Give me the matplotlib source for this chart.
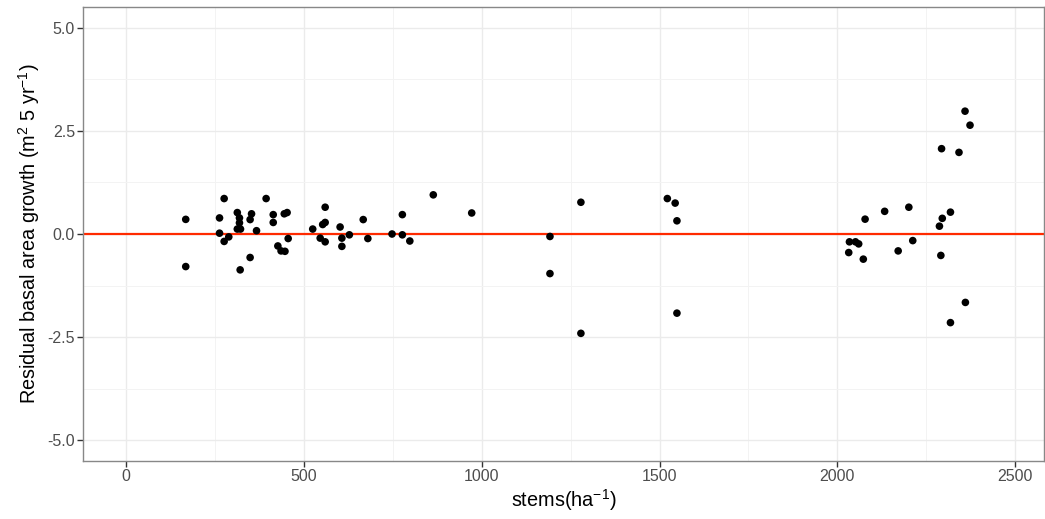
import matplotlib
matplotlib.use("Agg")
import matplotlib.pyplot as plt
from matplotlib.ticker import MultipleLocator

plt.rcParams['font.family'] = ['Liberation Sans', 'DejaVu Sans']
plt.rcParams['mathtext.fontset'] = 'custom'
plt.rcParams['mathtext.rm'] = 'Liberation Sans'
plt.rcParams['mathtext.it'] = 'Liberation Sans:italic'

stems = [168, 168, 276, 263, 263, 276, 289, 313, 319, 319, 313, 322, 321, 349, 353, 349,
         367, 394, 414, 414, 427, 436, 447, 445, 453, 456,
         525, 560, 553, 560, 546, 560, 602, 607, 607, 628, 667, 680, 748, 777, 777, 798, 864,
         972, 1192, 1192, 1279, 1279, 1522, 1544, 1549, 1549,
         2359, 2373, 2293, 2342, 2201, 2133, 2078, 2318, 2295, 2287,
         2034, 2051, 2060, 2032, 2073, 2171, 2212, 2291, 2360, 2318]
residuals = [0.355, -0.79, 0.86, 0.39, 0.02, -0.18, -0.07, 0.52, 0.39, 0.27, 0.12, 0.12, -0.87, -0.57, 0.49, 0.35,
             0.08, 0.86, 0.47, 0.28, -0.29, -0.41, -0.42, 0.49, 0.52, -0.11,
             0.12, 0.65, 0.23, 0.28, -0.10, -0.19, 0.17, -0.10, -0.30, -0.02, 0.35, -0.11, 0.0, 0.47, -0.02, -0.17, 0.95,
             0.51, -0.06, -0.96, 0.77, -2.41, 0.86, 0.75, 0.32, -1.92,
             2.98, 2.64, 2.07, 1.98, 0.65, 0.55, 0.36, 0.53, 0.38, 0.19,
             -0.19, -0.19, -0.24, -0.45, -0.61, -0.41, -0.16, -0.52, -1.66, -2.15]

x_ticks = [0, 500, 1000, 1500, 2000, 2500]
y_ticks = [-5.0, -2.5, 0.0, 2.5, 5.0]

fig = plt.figure(figsize=(10.45, 5.19), dpi=100)
ax = fig.add_axes([83.3 / 1045, 1 - 460.7 / 519, (1044 - 83.3) / 1045, (460.7 - 7.3) / 519])

ax.set_xlim(-120, 2581)
ax.set_ylim(-5.5, 5.5)
ax.set_xticks(x_ticks)
ax.set_yticks(y_ticks)
ax.set_xticklabels([str(t) for t in x_ticks])
ax.set_yticklabels([f"{t:.1f}" for t in y_ticks])
ax.xaxis.set_minor_locator(MultipleLocator(250))
ax.yaxis.set_minor_locator(MultipleLocator(1.25))

ax.grid(which='major', color='#EBEBEB', linewidth=1.0, zorder=0)
ax.grid(which='minor', color='#F3F3F3', linewidth=0.7, zorder=0)
ax.set_axisbelow(True)

for s in ax.spines.values():
    s.set_color('#888888')
    s.set_linewidth(1.0)

ax.tick_params(which='major', length=4, width=1, color='#333333', labelcolor='#4D4D4D',
               labelsize=11.5, pad=2)
ax.tick_params(which='minor', length=0)

ax.axhline(0, color='#FF2A00', linewidth=1.6, zorder=2)
ax.scatter(stems, residuals, s=30, color='black', edgecolors='none', zorder=3)

ax.set_xlabel(r'stems$(\mathrm{ha}^{-1})$', fontsize=14.3, labelpad=2)
ax.set_ylabel(r'Residual basal area growth (m$^{2}$ 5 yr$^{-1}$)', fontsize=14.3, labelpad=4)

fig.savefig('out.png', dpi=100)
